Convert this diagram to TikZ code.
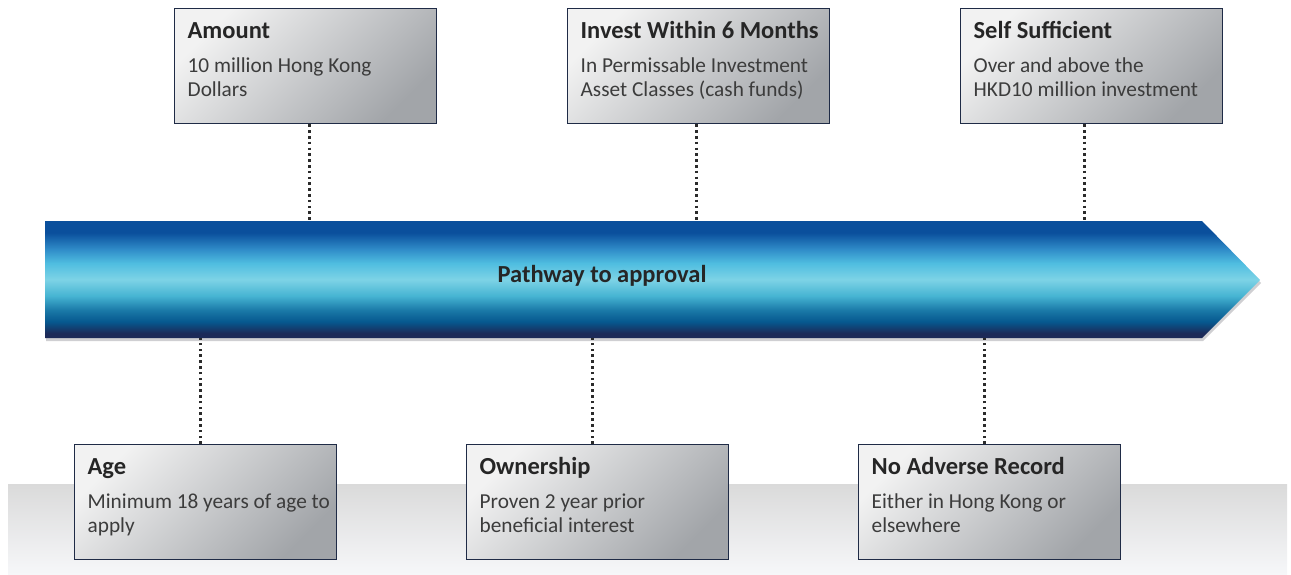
\documentclass[tikz,border=0pt]{standalone}
\usepackage{fontspec}
\setmainfont{Carlito}

\definecolor{bordo}{HTML}{1F2B46}
\definecolor{grigiochiaro}{HTML}{F2F2F2}
\definecolor{grigioscuro}{HTML}{A2A5A9}
\definecolor{punti}{HTML}{2B2B2B}
\definecolor{testo}{HTML}{3C3C3C}
\definecolor{titolo}{HTML}{262626}
\definecolor{fascia1}{HTML}{DADADA}
\definecolor{fascia2}{HTML}{F6F7F9}
\definecolor{ombra}{HTML}{CFCFD2}
\definecolor{navy}{HTML}{1C2A58}
\definecolor{blusc}{HTML}{06588F}
\definecolor{blumed}{HTML}{1B7AA8}
\definecolor{ciano}{HTML}{46B4D2}
\definecolor{cianochiaro}{HTML}{7DD3E6}
\definecolor{azzurro}{HTML}{4FBDE0}
\definecolor{blu}{HTML}{2F8BC8}
\definecolor{blutop}{HTML}{0A4F9C}

% Sfumatura della freccia
\pgfdeclareverticalshading{pista}{100bp}{color(0bp)=(navy); color(25bp)=(navy);
  color(27bp)=(navy); color(32bp)=(blusc); color(37bp)=(blumed); color(43bp)=(ciano);
  color(50bp)=(cianochiaro); color(57bp)=(azzurro); color(63bp)=(blu);
  color(70bp)=(blutop); color(75bp)=(blutop); color(100bp)=(blutop)}

% Testo dei riquadri
\newcommand{\scheda}[2]{\parbox[t][115pt][t]{236pt}{\color{testo}%
  \rule{0pt}{30pt}\mbox{\bfseries\fontsize{24.5}{24}\selectfont\color{titolo}#1}\par
  \vspace{10pt}\fontsize{21.3}{24}\selectfont\begin{tabular}[t]{@{}l@{}}#2\end{tabular}}}

\begin{document}
\begin{tikzpicture}[x=1pt, y=-1pt,
  riquadro/.style={draw=bordo, line width=1.3pt, top color=grigiochiaro,
    bottom color=grigioscuro, shading angle=45, inner xsep=13pt, inner ysep=0pt,
    anchor=north west},
  puntini/.style={draw=punti, line width=2.6pt, dash pattern=on 2.6pt off 3.2pt}]

\useasboundingbox (0,0) rectangle (1291,574);

% Fascia grigia sul fondo
\shade[top color=fascia1, bottom color=fascia2] (8,484) rectangle (1287,574);

% Freccia con ombra
\begin{scope}[shift={(1,3)}]
\fill[ombra] (45,221) -- (1202,221) -- (1260,280) -- (1202,338) -- (45,338) -- cycle;
\end{scope}
\shade[shading=pista] (45,221) -- (1202,221) -- (1260,280) -- (1202,338) -- (45,338) -- cycle;
\node[font=\bfseries\fontsize{24.5}{24}\selectfont, text=titolo] (pista) at (602,276) {Pathway to approval};

% Bordi della freccia
\coordinate (bordosu) at (0,221);
\coordinate (bordogiu) at (0,338);

% Riquadri in alto
\node[riquadro] (amount) at (174,8) {\scheda{Amount}{10 million Hong Kong\\ Dollars}};
\node[riquadro] (invest) at (567,8) {\scheda{Invest Within 6 Months}{In Permissable Investment\\ Asset Classes (cash funds)}};
\node[riquadro] (self) at (960,8) {\scheda{Self Sufficient}{Over and above the\\ HKD10 million investment}};

% Riquadri in basso
\node[riquadro] (age) at (74,444) {\scheda{Age}{Minimum 18 years of age to\\ apply}};
\node[riquadro] (owner) at (466,444) {\scheda{Ownership}{Proven 2 year prior\\ beneficial interest}};
\node[riquadro] (record) at (858,444) {\scheda{No Adverse Record}{Either in Hong Kong or\\ elsewhere}};

% Collegamenti tratteggiati
\draw[puntini] ([xshift=4pt]amount.south) -- ([xshift=4pt]amount.south |- bordosu);
\draw[puntini] ([xshift=-2pt]invest.south) -- ([xshift=-2pt]invest.south |- bordosu);
\draw[puntini] ([xshift=-7pt]self.south) -- ([xshift=-7pt]self.south |- bordosu);
\draw[puntini] ([xshift=-5pt]age.north) -- ([xshift=-5pt]age.north |- bordogiu);
\draw[puntini] ([xshift=-5pt]owner.north) -- ([xshift=-5pt]owner.north |- bordogiu);
\draw[puntini] ([xshift=-5pt]record.north) -- ([xshift=-5pt]record.north |- bordogiu);

\end{tikzpicture}
\end{document}
